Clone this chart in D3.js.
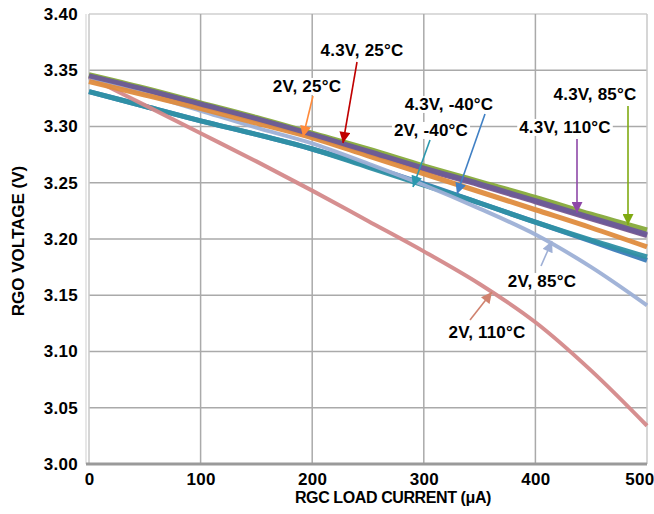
<!DOCTYPE html>
<html lang="en">
<head>
<meta charset="UTF-8">
<title>RGO Voltage vs RGC Load Current</title>
<script src="https://d3js.org/d3.v7.min.js"></script>
<style>
  body { margin: 0; background: #fff; }
  svg text { font-family: "Liberation Sans", Arial, sans-serif; font-weight: bold; fill: #000; }
</style>
</head>
<body>
<svg width="654" height="514"></svg>
<script>
// load current (uA) sample points
const currents = [0, 50, 100, 150, 200, 250, 300, 350, 400, 450, 500];

// RGO voltage (V)
const v43_25  = [3.345, 3.332, 3.319, 3.306, 3.292, 3.277, 3.262, 3.248, 3.233, 3.218, 3.203];
const v43_m40 = [3.331, 3.318, 3.305, 3.293, 3.280, 3.265, 3.249, 3.232, 3.215, 3.198, 3.181];
const v2_m40  = [3.331, 3.318, 3.305, 3.293, 3.280, 3.264, 3.248, 3.232, 3.215, 3.199, 3.184];
const v2_110  = [3.344, 3.319, 3.294, 3.269, 3.243, 3.216, 3.189, 3.160, 3.126, 3.083, 3.034];
const v2_85   = [3.343, 3.329, 3.314, 3.299, 3.285, 3.267, 3.248, 3.227, 3.204, 3.175, 3.141];
const v2_25   = [3.340, 3.328, 3.316, 3.303, 3.290, 3.274, 3.258, 3.242, 3.226, 3.210, 3.193];
const v43_85  = [3.346, 3.334, 3.321, 3.308, 3.294, 3.280, 3.265, 3.251, 3.237, 3.222, 3.208];
const v43_110 = [3.345, 3.333, 3.320, 3.307, 3.293, 3.278, 3.263, 3.249, 3.234, 3.219, 3.204];

const xTicks = [0, 100, 200, 300, 400, 500];
const yTicks = [3.00, 3.05, 3.10, 3.15, 3.20, 3.25, 3.30, 3.35, 3.40];

// draw order: first is at the bottom
const series = [
  {name: "4.3V, 25°C",  values: v43_25,  color: "#7b5a8e", arrow: "#c00000", w: 5},
  {name: "4.3V, -40°C", values: v43_m40, color: "#3b7cb8", arrow: "#4080c4", w: 5},
  {name: "2V, -40°C",   values: v2_m40,  color: "#2f90a4", arrow: "#2a98ae", w: 5},
  {name: "2V, 110°C",   values: v2_110,  color: "#d4898a", arrow: "#d0826f", w: 4},
  {name: "2V, 85°C",    values: v2_85,   color: "#9db0d6", arrow: "#9fb0d6", w: 4},
  {name: "2V, 25°C",    values: v2_25,   color: "#df8c3e", arrow: "#ff8a3a", w: 5},
  {name: "4.3V, 85°C",  values: v43_85,  color: "#86aa3a", arrow: "#80aa12", w: 5},
  {name: "4.3V, 110°C", values: v43_110, color: "#6c5a98", arrow: "#8e48a8", w: 5}
];

// label placement in pixels: text centre, arrow tail, arrow tip
const notes = {
  "4.3V, 25°C":  {tx: 362, ty: 50,  x1: 357, y1: 62,  x2: 343, y2: 143},
  "2V, 25°C":    {tx: 307, ty: 86,  x1: 313, y1: 96,  x2: 303, y2: 137},
  "4.3V, -40°C": {tx: 449, ty: 104, x1: 485, y1: 114, x2: 457, y2: 194},
  "2V, -40°C":   {tx: 431, ty: 130, x1: 430, y1: 140, x2: 413, y2: 187},
  "4.3V, 85°C":  {tx: 595, ty: 94,  x1: 628, y1: 106, x2: 628, y2: 225},
  "4.3V, 110°C": {tx: 565, ty: 127, x1: 577, y1: 139, x2: 577, y2: 213},
  "2V, 85°C":    {tx: 542, ty: 281, x1: 541, y1: 266, x2: 552, y2: 241},
  "2V, 110°C":   {tx: 487, ty: 332, x1: 470, y1: 320, x2: 492, y2: 292}
};

const margin = {left: 89, top: 14, right: 7, bottom: 50};
const W = 654 - margin.left - margin.right;
const H = 514 - margin.top - margin.bottom;

const x = d3.scaleLinear().domain([0, 500]).range([0, W]);
const y = d3.scaleLinear().domain([3.0, 3.4]).range([H, 0]);

const svg = d3.select("svg");
const g = svg.append("g").attr("transform", "translate(" + margin.left + "," + margin.top + ")");

// grid
g.append("g").selectAll("line").data(yTicks).enter().append("line")
  .attr("x1", 0).attr("x2", W)
  .attr("y1", d => y(d)).attr("y2", d => y(d))
  .attr("stroke", d => d == 3.4 ? "#cfcfcf" : "#aaaaaa").attr("stroke-width", 1.5);
g.append("g").selectAll("line").data(xTicks).enter().append("line")
  .attr("x1", d => x(d)).attr("x2", d => x(d))
  .attr("y1", 0).attr("y2", H)
  .attr("stroke", d => (d == 0 || d == 500) ? "#c8c8c8" : "#aaaaaa").attr("stroke-width", 1.5);
g.append("line").attr("x1", -3).attr("x2", -3).attr("y1", 0).attr("y2", H)
  .attr("stroke", "#d8d8d8").attr("stroke-width", 1.2);
g.append("line").attr("x1", -3).attr("x2", W).attr("y1", H).attr("y2", H)
  .attr("stroke", "#9a9a9a").attr("stroke-width", 3);

// axes labels via d3 axes, domain and ticks hidden
const yAxis = g.append("g").call(d3.axisLeft(y).tickValues(yTicks).tickFormat(d3.format(".2f")).tickSize(0).tickPadding(11));
const xAxis = g.append("g").attr("transform", "translate(0," + H + ")")
  .call(d3.axisBottom(x).tickValues(xTicks).tickSize(0).tickPadding(9));
[yAxis, xAxis].forEach(a => {
  a.select(".domain").remove();
  a.selectAll("text").attr("font-size", 17).attr("letter-spacing", 0.3)
    .style("font-family", '"Liberation Sans", Arial, sans-serif').style("font-weight", "bold").attr("fill", "#000");
});
// keep the last x label inside the window
xAxis.selectAll(".tick").filter(d => d == 500).select("text").attr("text-anchor", "end").attr("dx", 7);

// lines
const line = d3.line().x((d, i) => x(currents[i])).y(d => y(d)).curve(d3.curveCatmullRom.alpha(0.5));
g.append("g").selectAll("path").data(series).enter().append("path")
  .attr("d", d => line(d.values))
  .attr("fill", "none")
  .attr("stroke", d => d.color)
  .attr("stroke-width", d => d.w)
  .attr("stroke-opacity", 0.95)
  .attr("stroke-linecap", "butt");

// arrow markers
const defs = svg.append("defs");
series.forEach((s, i) => {
  defs.append("marker").attr("id", "ah" + i)
    .attr("viewBox", "0 0 10 10").attr("refX", 10).attr("refY", 5)
    .attr("markerUnits", "userSpaceOnUse")
    .attr("markerWidth", 12).attr("markerHeight", 11)
    .attr("orient", "auto")
    .append("path").attr("d", "M0,0 L10,5 L0,10 Z").attr("fill", s.arrow);
});

// annotations
const ann = svg.append("g");
series.forEach((s, i) => {
  const n = notes[s.name];
  ann.append("line")
    .attr("x1", n.x1).attr("y1", n.y1).attr("x2", n.x2).attr("y2", n.y2)
    .attr("stroke", s.arrow).attr("stroke-width", 1.6)
    .attr("marker-end", "url(#ah" + i + ")");
});
series.forEach(s => {
  const n = notes[s.name];
  const t = ann.append("text")
    .attr("x", n.tx).attr("y", n.ty).attr("dy", "0.35em")
    .attr("text-anchor", "middle").attr("font-size", 17).attr("letter-spacing", 0.2)
    .text(s.name);
  const b = t.node().getBBox();
  ann.insert("rect", "text").attr("x", b.x - 2).attr("y", b.y + 1)
    .attr("width", b.width + 4).attr("height", b.height - 2).attr("fill", "#fff");
});

// axis titles
svg.append("text").attr("x", 393).attr("y", 503)
  .attr("text-anchor", "middle").attr("font-size", 16).attr("letter-spacing", -0.4)
  .text("RGC LOAD CURRENT (μA)");
svg.append("text").attr("transform", "translate(24,241) rotate(-90)")
  .attr("text-anchor", "middle").attr("font-size", 17)
  .text("RGO VOLTAGE (V)");
</script>
</body>
</html>
